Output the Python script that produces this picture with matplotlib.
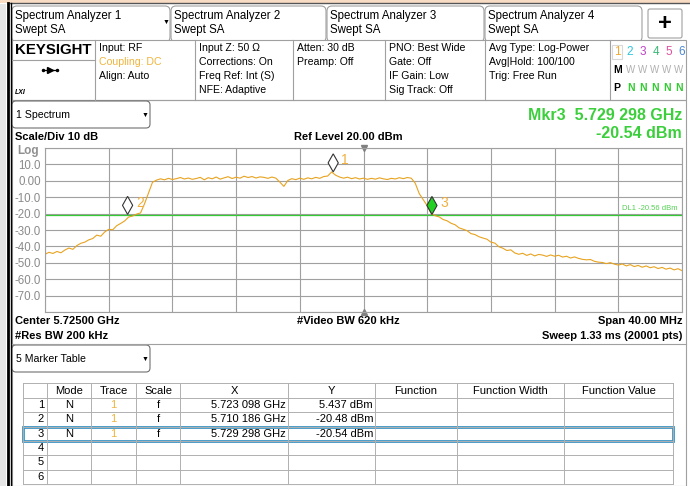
import matplotlib.pyplot as plt
import numpy as np
from matplotlib.patches import Rectangle, FancyBboxPatch, Polygon

plt.rcParams['font.family'] = ['Liberation Sans', 'DejaVu Sans']

# sweep settings
center_mhz = 5725.0
span_mhz = 40.0
ref_level = 20.0
db_per_div = 10.0
display_line = -20.56

# trace 1, every 0.25 MHz from the start freq (dBm)
trace_level = [
    -44.8, -43.6, -44.3, -43.1, -43.9, -42.2, -41.0, -41.8, -39.5, -38.1,
    -37.4, -36.0, -35.2, -33.1, -33.8, -31.2, -29.6, -29.9, -27.4, -26.0,
    -24.5, -22.1, -21.5, -20.3, -19.6, -14.0, -7.5, -0.9, 0.4, 1.2,
    0.6, 1.5, 0.8, 1.3, 2.0, 1.1, 1.7, 0.9, 1.4, 2.1,
    0.6, 1.9, 1.2, 2.3, 1.0, 1.8, 2.5, 1.4, 2.2, 1.6,
    2.8, 2.0, 2.6, 1.7, 2.4, 2.1, 1.5, 2.3, 1.6, -0.8,
    -3.4, 0.2, 1.3, 0.7, 1.6, 0.9, 1.8, 1.2, 2.1, 1.5,
    2.6, 2.9, 5.4, 3.4, 2.3, 1.6, 2.2, 1.3, 1.9, 1.1,
    1.6, 0.9, 1.5, 1.0, 1.8, 1.2, 0.8, 1.5, 1.1, 1.9,
    1.3, 2.0, 1.6, -1.5, -7.8, -11.5, -15.2, -19.8, -21.3, -22.0,
    -23.6, -24.4, -25.9, -26.8, -28.7, -29.5, -30.4, -32.2, -32.8, -34.1,
    -34.9, -35.6, -37.4, -38.0, -40.2, -41.1, -42.5, -42.1, -44.0, -44.8,
    -44.2, -45.5, -44.6, -45.8, -44.9, -45.3, -46.1, -45.2, -46.0, -45.4,
    -46.5, -46.0, -47.1, -46.4, -47.3, -47.9, -48.2, -48.0, -49.1, -49.6,
    -49.8, -50.5, -49.9, -50.8, -51.4, -50.7, -51.9, -51.1, -52.3, -51.6,
    -52.7, -51.9, -53.0, -52.4, -53.5, -52.8, -53.9, -53.2, -54.3, -53.6,
    -54.8,
]

# markers
mkr_freq = [5723.098, 5710.186, 5729.298]   # MHz
mkr_level = [5.437, -20.48, -20.54]         # dBm
mkr_mode = ['N', 'N', 'N']
mkr_trace = ['1', '1', '1']
mkr_scale = ['f', 'f', 'f']
active_mkr = 3

table_cols = ['', 'Mode', 'Trace', 'Scale', 'X', 'Y', 'Function', 'Function Width', 'Function Value']

info_cols = [
    (99, [('Input: RF', 'k'), ('Coupling: DC', '#f0b43c'), ('Align: Auto', 'k')]),
    (199, [('Input Z: 50 Ω', 'k'), ('Corrections: On', 'k'), ('Freq Ref: Int (S)', 'k'), ('NFE: Adaptive', 'k')]),
    (297, [('Atten: 30 dB', 'k'), ('Preamp: Off', 'k')]),
    (389, [('PNO: Best Wide', 'k'), ('Gate: Off', 'k'), ('IF Gain: Low', 'k'), ('Sig Track: Off', 'k')]),
    (489, [('Avg Type: Log-Power', 'k'), ('Avg|Hold: 100/100', 'k'), ('Trig: Free Run', 'k')]),
]
trace_colors = ['#f0a830', '#2fc4dc', '#c040c8', '#3cb878', '#e0509c', '#4a86d0']

GRAY = '#a0a0a0'
ORANGE = '#e8a31f'
GREEN = '#36c936'


def ghz_str(f_mhz):
    s = f'{f_mhz / 1000:.6f}'
    return s[:5] + ' ' + s[5:] + ' GHz'


fig = plt.figure(figsize=(6.9, 4.86), dpi=100)

# screen chrome, in pixel coordinates
ui = fig.add_axes([0, 0, 1, 1])
ui.set_xlim(0, 690)
ui.set_ylim(486, 0)
ui.axis('off')

ui.add_patch(Rectangle((0, 0), 690, 3.5, color='#f8dcc4', lw=0))
ui.plot([10, 690], [3.5, 3.5], color='#555555', lw=1)
ui.add_patch(Rectangle((0, 4), 6, 482, color='#e6e6e6', lw=0))
ui.plot([7.5, 7.5], [3, 486], color='k', lw=2)
ui.plot([10.5, 10.5], [3, 486], color='k', lw=1)

# tabs
tab_x = [12, 171, 327, 485]
tab_w = [158, 155, 157, 157]
for i, (x0, w) in enumerate(zip(tab_x, tab_w)):
    ui.add_patch(FancyBboxPatch((x0, 6), w, 36, boxstyle='round,pad=0,rounding_size=5',
                                fc='white', ec=GRAY, lw=0.8))
    ui.text(x0 + 3, 16, f'Spectrum Analyzer {i + 1}', fontsize=8.3, va='center')
    ui.text(x0 + 3, 30, 'Swept SA', fontsize=8.3, va='center')
ui.text(166, 22, '▼', fontsize=5, va='center', ha='center')
ui.add_patch(FancyBboxPatch((648, 9), 34, 29, boxstyle='round,pad=0,rounding_size=2',
                            fc='white', ec=GRAY, lw=0.8))
ui.text(665, 24, '+', fontsize=17, fontweight='bold', ha='center', va='center')

# settings row
ui.add_patch(Rectangle((12, 40), 674, 60, fc='white', ec=GRAY, lw=0.8))
for xd in [95, 195, 293, 385, 485, 610]:
    ui.plot([xd, xd], [40, 100], color=GRAY, lw=0.8)
ui.plot([12, 95], [60, 60], color=GRAY, lw=0.8)
ui.text(15, 50, 'KEYSIGHT', fontsize=10.8, fontweight='bold', va='center')
ui.plot([43, 57], [70, 70], color='k', lw=0.9)
ui.plot([50], [70], marker='>', color='k', ms=4)
ui.plot([43, 57], [70, 70], 'o', color='k', ms=1.5)
ui.text(15, 92, 'LXI', fontsize=5, fontstyle='italic', fontweight='bold', va='center')
for x0, rows in info_cols:
    for j, (s, c) in enumerate(rows):
        ui.text(x0, 48 + 14 * j, s, fontsize=7.6, color=c, va='center')

# trace indicator
for i, c in enumerate(trace_colors):
    ui.text(617 + 13 * i, 52, str(i + 1), fontsize=8.5, color=c, va='center', ha='center')
ui.add_patch(Rectangle((612, 45), 10, 14, fc='none', ec='#d8d8d8', lw=0.8))
ui.text(613, 70, 'M', fontsize=7.5, fontweight='bold', va='center')
ui.text(613, 88, 'P', fontsize=7.5, fontweight='bold', va='center')
for i in range(5):
    ui.text(631 + 12 * i, 70, 'W', fontsize=7, color='#b0b0b0', va='center', ha='center')
    ui.text(631 + 12 * i, 88, 'N', fontsize=7.5, color=GREEN, va='center', ha='center', fontweight='bold')

# window body
ui.add_patch(Rectangle((12, 100), 674, 386, fc='none', ec=GRAY, lw=0.8))
ui.add_patch(FancyBboxPatch((12, 101), 138, 27, boxstyle='round,pad=0,rounding_size=4',
                            fc='white', ec='#707070', lw=0.8))
ui.text(16, 115, '1 Spectrum', fontsize=7.6, va='center')
ui.text(145, 115, '▼', fontsize=5, va='center', ha='center')

ui.text(682, 115, f'Mkr{active_mkr}  {ghz_str(mkr_freq[active_mkr - 1])}', fontsize=11.5,
        fontweight='bold', color='#3ccf3c', ha='right', va='center')
ui.text(682, 133, f'{mkr_level[active_mkr - 1]:.2f} dBm', fontsize=11.5,
        fontweight='bold', color='#3ccf3c', ha='right', va='center')
ui.text(15, 137, f'Scale/Div {db_per_div:.0f} dB', fontsize=8, fontweight='bold', va='center')
ui.text(348, 137, f'Ref Level {ref_level:.2f} dBm', fontsize=8, fontweight='bold', va='center', ha='center')
ui.text(17, 151, 'Log', fontsize=8.5, fontweight='bold', color='#909090', va='center')

ui.text(15, 321, f'Center {center_mhz / 1000:.5f} GHz', fontsize=8, fontweight='bold', va='center')
ui.text(15, 336, '#Res BW 200 kHz', fontsize=8, fontweight='bold', va='center')
ui.text(348, 321, '#Video BW 620 kHz', fontsize=8, fontweight='bold', va='center', ha='center')
ui.text(682, 321, f'Span {span_mhz:.2f} MHz', fontsize=8, fontweight='bold', va='center', ha='right')
ui.text(682, 336, 'Sweep 1.33 ms (20001 pts)', fontsize=8, fontweight='bold', va='center', ha='right')

ui.plot([12, 686], [344, 344], color=GRAY, lw=0.8)
ui.add_patch(FancyBboxPatch((12, 345), 138, 27, boxstyle='round,pad=0,rounding_size=4',
                            fc='white', ec='#707070', lw=0.8))
ui.text(16, 359, '5 Marker Table', fontsize=7.6, va='center')
ui.text(145, 359, '▼', fontsize=5, va='center', ha='center')

# marker table
col_edges = [23, 47, 91, 136, 180, 288, 375, 457, 564, 673]
row_top = 383
row_h = [15, 14.3, 14.3, 14.3, 14.3, 14.3, 14.3]
row_edges = [row_top + sum(row_h[:k]) for k in range(len(row_h) + 1)]
for xe in col_edges:
    ui.plot([xe, xe], [row_edges[0], row_edges[-1]], color='#b0b0b0', lw=0.7)
for ye in row_edges:
    ui.plot([col_edges[0], col_edges[-1]], [ye, ye], color='#b0b0b0', lw=0.7)
mid = lambda k: (row_edges[k] + row_edges[k + 1]) / 2
for c, name in enumerate(table_cols):
    ui.text((col_edges[c] + col_edges[c + 1]) / 2, mid(0), name, fontsize=8, ha='center', va='center')
for r in range(6):
    ui.text(44, mid(r + 1), str(r + 1), fontsize=8, ha='right', va='center')
for r in range(len(mkr_freq)):
    y = mid(r + 1)
    ui.text(69, y, mkr_mode[r], fontsize=8, ha='center', va='center')
    ui.text(113, y, mkr_trace[r], fontsize=8, ha='center', va='center', color='#f0b43c')
    ui.text(158, y, mkr_scale[r], fontsize=8, ha='center', va='center')
    ui.text(286, y, ghz_str(mkr_freq[r]), fontsize=8, ha='right', va='center')
    ui.text(373, y, f'{mkr_level[r]:.4g} dBm' if r == 0 else f'{mkr_level[r]:.2f} dBm',
            fontsize=8, ha='right', va='center')
hl = active_mkr
ui.add_patch(Rectangle((23, row_edges[hl]), 650, row_edges[hl + 1] - row_edges[hl],
                       fc='none', ec='#3a94c4', lw=2))

# spectrum plot
ax = fig.add_axes([45 / 690, (486 - 312) / 486, 637 / 690, 164 / 486])
freq = np.linspace(center_mhz - span_mhz / 2, center_mhz + span_mhz / 2, len(trace_level))
ax.set_xlim(freq[0], freq[-1])
ax.set_ylim(ref_level - 10 * db_per_div, ref_level)
ax.set_xticks(np.linspace(freq[0], freq[-1], 11))
yt = np.arange(ref_level - 10 * db_per_div, ref_level + 1, db_per_div)
ax.set_yticks(yt)
ax.set_yticklabels(['' if (v == yt[0] or v == yt[-1]) else ('0.00' if v == 0 else f'{v:.1f}') for v in yt])
ax.set_xticklabels([])
ax.tick_params(length=0, labelsize=8.3, labelcolor='#8a8a8a', pad=3)
ax.grid(True, color=GRAY, lw=0.8)
for s in ax.spines.values():
    s.set_color(GRAY)
    s.set_linewidth(0.8)

ax.axhline(display_line, color=GREEN, lw=0.9)
ax.text(freq[-1] - 0.3, display_line + 1.5, f'DL1 {display_line:.2f} dBm', fontsize=5.5,
        color='#55d055', ha='right', va='bottom')
ax.plot(freq, trace_level, color=ORANGE, lw=0.8)

ax.plot([center_mhz], [ref_level], marker='v', color='#808080', ms=5, clip_on=False)
ax.plot([center_mhz], [ref_level - 10 * db_per_div], marker='^', color='#808080', ms=5, clip_on=False)

dw = 0.32   # half width of marker diamond (MHz)
dh = 11.0   # height of marker diamond (dB)
for i, (f, lv) in enumerate(zip(mkr_freq, mkr_level)):
    fc = '#22d022' if i + 1 == active_mkr else 'white'
    ax.add_patch(Polygon([(f, lv), (f + dw, lv + dh / 2), (f, lv + dh), (f - dw, lv + dh / 2)],
                         closed=True, fc=fc, ec='#333333', lw=0.8, zorder=5))
    ax.text(f + dw + 0.2, lv + dh / 2 + 1.5, str(i + 1), fontsize=10, color='#f0b040',
            va='center', ha='left', zorder=6)

fig.savefig('out.png', dpi=100)
